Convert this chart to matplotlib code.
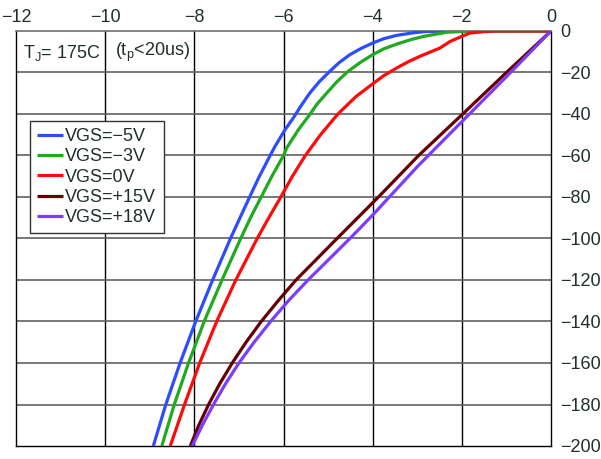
import matplotlib
matplotlib.use("Agg")
import matplotlib.pyplot as plt

plt.rcParams['font.family'] = ['Liberation Sans', 'DejaVu Sans']
plt.rcParams['mathtext.fontset'] = 'custom'
plt.rcParams['mathtext.rm'] = 'Liberation Sans'
plt.rcParams['mathtext.it'] = 'Liberation Sans:italic'

TXT = '#1f2e2e'

# ---- data (Vds [V], Id [A]) ----
labels = ["VGS=\u22125V", "VGS=\u22123V", "VGS=0V", "VGS=+15V", "VGS=+18V"]
colors = ["#2e4cff", "#1faa1f", "#ff0a0a", "#660000", "#7a3dff"]

x_m5 = [0, -1.5, -2.2, -2.79, -3.1, -3.46, -3.75, -4.0, -4.25, -4.51, -4.75, -4.96, -5.2, -5.41, -5.6,
        -5.78, -5.97, -6.19, -6.30, -6.54, -6.76, -7.19, -7.59, -7.97, -8.32, -8.64, -8.92]
y_m5 = [0, 0, -0.05, -0.2, -0.9, -2.1, -3.7, -5.8, -8.3, -11.4, -15.2, -19.4, -24.5, -29.9, -35.8,
        -41.9, -47.7, -55.6, -60, -70, -80, -100, -120, -140, -160, -180, -200]

x_m3 = [0, -1.8, -2.34, -2.86, -3.15, -3.46, -3.75, -4.0, -4.28, -4.55, -4.8, -5.03, -5.25, -5.44,
        -5.67, -5.93, -6.0, -6.26, -6.50, -6.74, -6.96, -7.38, -7.78, -8.13, -8.45, -8.73]
y_m3 = [0, 0, -0.6, -2.6, -4.2, -6.3, -8.6, -11.4, -15.2, -19.4, -24.4, -29.9, -35.3, -41.1,
        -47.7, -56.4, -60, -70, -80, -90, -100, -120, -140, -160, -180, -200]

x_0 = [0, -1.2, -1.5, -1.82, -2.0, -2.26, -2.49, -2.94, -3.2, -3.46, -3.75, -4.0, -4.37, -4.78, -5.17,
       -5.51, -5.80, -6.06, -6.33, -6.59, -7.07, -7.50, -7.88, -8.22, -8.54]
y_0 = [0, 0, -0.3, -1.0, -2.6, -5.0, -8.2, -12.2, -14.8, -17.8, -21.5, -25.5, -31.5, -40, -50,
       -60, -70, -80, -90, -100, -120, -140, -160, -180, -200]

x_p15 = [0, -1.0, -1.98, -2.97, -3.87, -4.8, -5.26, -5.72, -6.12, -6.50, -6.84, -7.15, -7.43, -7.68, -7.90, -8.09]
y_p15 = [0, -20, -40, -60, -80, -100, -110, -120, -130, -140, -150, -160, -170, -180, -190, -200]

x_p18 = [0, -1, -2, -3, -4, -4.51, -4.98, -5.45, -5.89, -6.29, -6.66, -7.00, -7.30, -7.57, -7.82, -8.05]
y_p18 = [0, -22, -43.7, -65.4, -88.7, -100, -110, -120, -130, -140, -150, -160, -170, -180, -190, -200]

xticks = [-12, -10, -8, -6, -4, -2, 0]
yticks = [0, -20, -40, -60, -80, -100, -120, -140, -160, -180, -200]

series = [(x_m5, y_m5), (x_m3, y_m3), (x_0, y_0), (x_p15, y_p15), (x_p18, y_p18)]

fig = plt.figure(figsize=(6.01, 4.59), dpi=100)
ax = fig.add_axes([16/601, 13/459, 535/601, 415/459])

ax.set_xlim(-12, 0)
ax.set_ylim(-200, 0)

for (xs, ys), c, lab in zip(series, colors, labels):
    ax.plot(xs, ys, color=c, lw=2.3, label=lab, solid_capstyle='butt',
            solid_joinstyle='round', zorder=3)

for xv in xticks[1:-1]:
    ax.axvline(xv, color='black', lw=1.0, zorder=1)
for yv in yticks[1:-1]:
    ax.axhline(yv, color='#606060', lw=1.2, zorder=1)

for s in ['left', 'right', 'bottom']:
    ax.spines[s].set_color('black')
    ax.spines[s].set_linewidth(1.0)
ax.spines['top'].set_color('#707070')
ax.spines['top'].set_linewidth(1.2)

ax.xaxis.tick_top()
ax.yaxis.tick_right()
ax.set_xticks(xticks)
ax.set_yticks(yticks)
ax.tick_params(axis='x', length=0, pad=3.5, labelsize=13, colors=TXT)
ax.tick_params(axis='y', length=0, pad=6.5, labelsize=13, colors=TXT)
for lbl in ax.get_yticklabels():
    lbl.set_horizontalalignment('left')

ax.text(-11.84, -10.5, "T$_\\mathrm{J}$= 175C", fontsize=13, color=TXT, va='center', ha='left')
ax.text(-9.78, -10.5, "(t$_\\mathrm{p}$<20us)", fontsize=13, color=TXT, va='center', ha='left')

leg = ax.legend(loc='upper left', bbox_to_anchor=((30-16)/535, 1-(121-31)/415),
                borderaxespad=0, fontsize=13, frameon=True, fancybox=False,
                handlelength=1.44, handletextpad=0.12, labelspacing=0.18,
                borderpad=0.4, labelcolor=TXT)
leg.get_frame().set_edgecolor('#333333')
leg.get_frame().set_linewidth(1.0)
leg.get_frame().set_alpha(1)
leg.set_zorder(5)

fig.savefig("out.png", dpi=100)
